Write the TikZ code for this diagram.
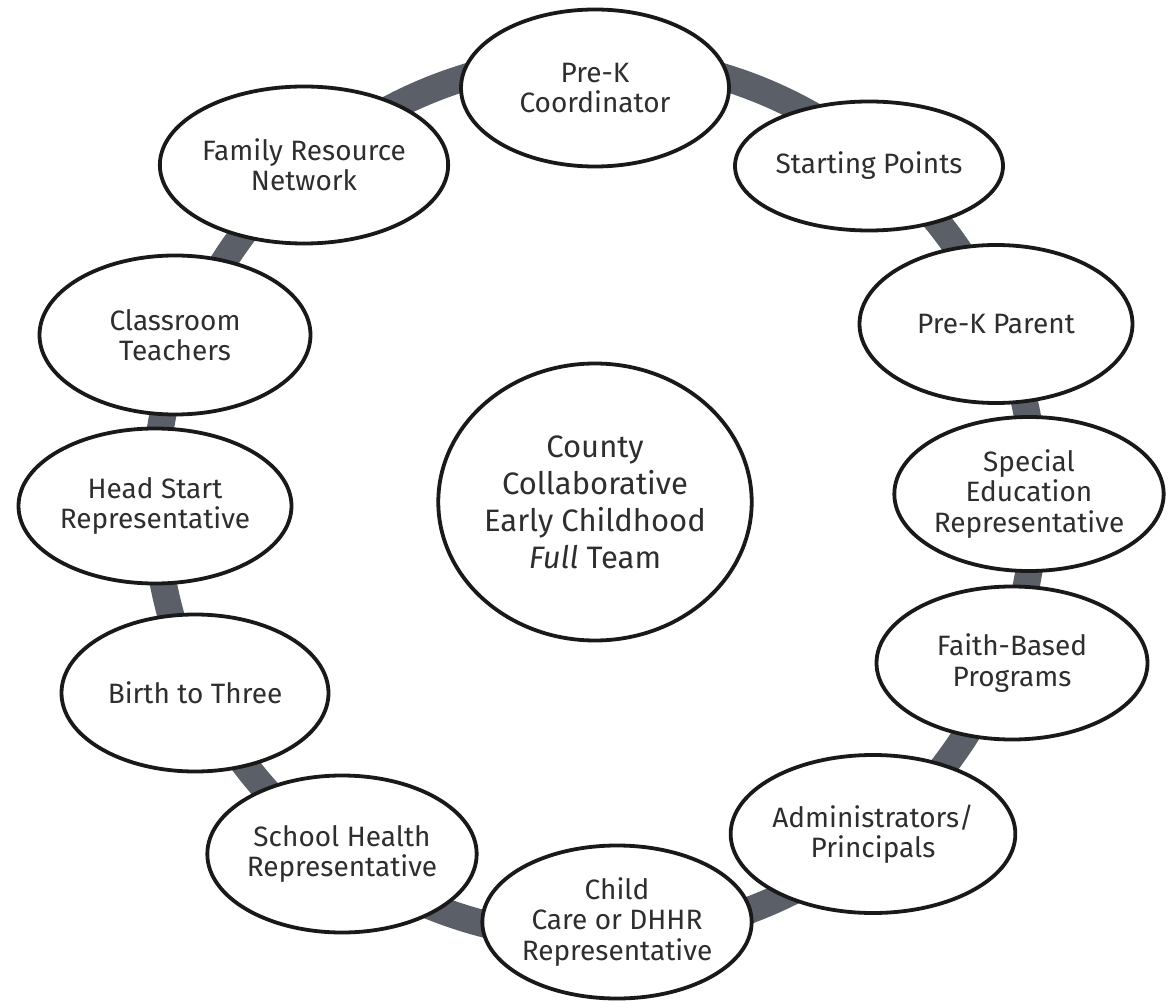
\documentclass[tikz,border=0pt]{standalone}
\usepackage{fontspec}
\setmainfont{Fira Sans}
\usetikzlibrary{shapes.geometric,backgrounds}
\definecolor{ringgray}{HTML}{5B6068}
\definecolor{txt}{HTML}{2E2E2E}
\tikzset{
  member/.style={ellipse, draw=black!90, line width=3.8pt, fill=white, inner sep=0pt,
    align=center, text=txt, font=\fontsize{28}{30.5}\selectfont},
  hubnode/.style={ellipse, draw=black!90, line width=3.8pt, fill=white, inner sep=0pt,
    align=center, text=txt, font=\fontsize{31}{37}\selectfont},
  ringline/.style={draw=ringgray, line width=27pt}
}
\begin{document}
\begin{tikzpicture}[x=1pt,y=-1pt]
\useasboundingbox (0,0) rectangle (1168,1008);
\node[hubnode, minimum width=302pt, minimum height=277pt] (hub) at (595,502) {County\\Collaborative\\Early Childhood\\\textit{Full} Team};
\node[member, minimum width=268pt, minimum height=157pt] (pk) at (595,88) {Pre-K\\Coordinator};
\node[member, minimum width=268pt, minimum height=129pt] (sp) at (869,166) {Starting Points};
\node[member, minimum width=273pt, minimum height=158pt] (pp) at (996,324) {Pre-K Parent};
\node[member, minimum width=261pt, minimum height=154pt] (se) at (1029,494) {Special\\Education\\Representative};
\node[member, minimum width=271pt, minimum height=153pt] (fb) at (1012,663) {Faith-Based\\Programs};
\node[member, minimum width=271pt, minimum height=158pt] (ad) at (873,834) {Administrators/\\Principals};
\node[member, minimum width=269pt, minimum height=153pt] (cc) at (617,922) {Child\\Care or DHHR\\Representative};
\node[member, minimum width=269pt, minimum height=157pt] (sh) at (342,854) {School Health\\Representative};
\node[member, minimum width=267pt, minimum height=157pt] (bt) at (195,693) {Birth to Three};
\node[member, minimum width=273pt, minimum height=155pt] (hs) at (155,506) {Head Start\\Representative};
\node[member, minimum width=271pt, minimum height=159pt] (ct) at (175,335) {Classroom\\Teachers};
\node[member, minimum width=271pt, minimum height=157pt] (fr) at (304,165) {Family Resource\\Network};
\coordinate (ringc) at (595,498);
\begin{scope}[on background layer]
  \fill[white] (0,0) rectangle (1168,1008);
  \draw[ringline] (ringc) circle[radius=440pt];
\end{scope}
\end{tikzpicture}
\end{document}
